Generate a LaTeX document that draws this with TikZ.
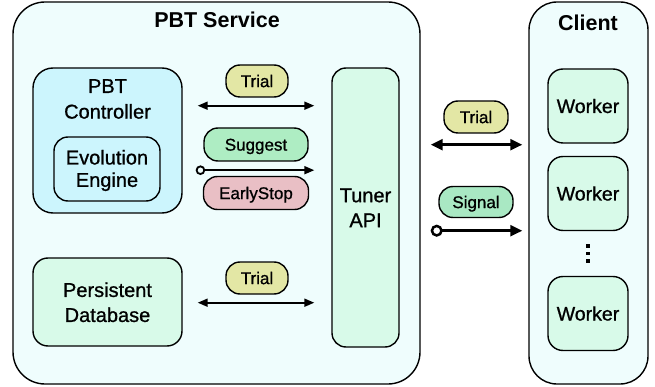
\documentclass[tikz,border=0pt]{standalone}
\usepackage{fontspec}
\setmainfont{Liberation Sans}
\newfontfamily\medfont{Liberation Sans}[FakeBold=0.9]
\usetikzlibrary{arrows.meta,calc}
\definecolor{svcbg}{HTML}{EFFDFD}
\definecolor{ctrlbg}{HTML}{CCF5FD}
\definecolor{greenbg}{HTML}{D8FAE9}
\definecolor{trialbg}{HTML}{E3E7A5}
\definecolor{suggbg}{HTML}{AEEDC3}
\definecolor{stopbg}{HTML}{E9BFC5}
\definecolor{sigbg}{HTML}{A9E8C3}
\begin{document}
\begin{tikzpicture}[x=1pt,y=-1pt,
  frame/.style={draw=black,line width=1.4pt,rounded corners=#1,inner sep=0pt},
  boxtxt/.style={font=\medfont\fontsize{20}{#1}\selectfont,align=center,inner sep=0pt},
  titletxt/.style={font=\bfseries\fontsize{21.5}{25}\selectfont,inner sep=0pt},
  lab/.style={draw=black,line width=1.4pt,rounded corners=14pt,inner sep=0pt,
    font=\medfont\fontsize{17}{20}\selectfont,text height=12.2pt,text depth=0pt},
  worker/.style={frame=15pt,fill=greenbg,minimum width=80pt,minimum height=74pt,
    font=\medfont\fontsize{19.5}{24}\selectfont,text height=14pt,text depth=0pt},
  biarrow/.style={line width=1.8pt,{Triangle[length=10pt,width=8pt]}-{Triangle[length=10pt,width=8pt]}},
  sigarrow/.style={line width=1.8pt,{Circle[open,length=9.5pt,width=9.5pt]}-{Triangle[length=10pt,width=8pt]}},
  bigbi/.style={line width=2.5pt,{Triangle[length=12pt,width=11pt]}-{Triangle[length=12pt,width=11pt]}},
  bigsig/.style={line width=2.5pt,{Circle[open,length=12pt,width=12pt]}-{Triangle[length=12pt,width=11pt]}}
]
\useasboundingbox (0,0) rectangle (655,387);

% containers
\node[frame=32pt,fill=svcbg,minimum width=407pt,minimum height=382pt] (svc) at (216.5,193) {};
\node[titletxt,anchor=base] (svcT) at (217,27.3) {PBT Service};
\node[frame=28pt,fill=svcbg,minimum width=119pt,minimum height=382pt] (client) at (588.5,193) {};
\node[titletxt,anchor=base] (clientT) at (588,31) {Client};

% PBT controller
\node[frame=20pt,fill=ctrlbg,minimum width=149pt,minimum height=145pt] (ctrl) at (107.5,140.5) {};
\node[boxtxt=25.6] (ctrlT) at (107.5,99) {PBT\\Controller};
\node[frame=14pt,fill=ctrlbg,minimum width=106pt,minimum height=64pt] (evo) at (107,169) {};
\node[boxtxt=22.4] (evoT) at (107,170.5) {Evolution\\Engine};

% persistent database
\node[frame=15pt,fill=greenbg,minimum width=149pt,minimum height=88pt] (db) at (107.5,302) {};
\node[boxtxt=25] (dbT) at (107.5,302.3) {Persistent\\Database};

% tuner api
\node[frame=14pt,fill=greenbg,minimum width=67pt,minimum height=279pt] (tuner) at (365.5,207.5) {};
\node[boxtxt=25] (tunerT) at (365.5,207.8) {Tuner\\API};

% workers
\node[worker] (w1) at (588,106) {Worker};
\node[worker] (w2) at (588,193.5) {Worker};
\node[worker] (w3) at (588,313.5) {Worker};
\foreach \yy in {246,253.5,261} \fill (586.2,\yy-1.8) rectangle (589.8,\yy+1.8);

% labels
\node[lab,fill=trialbg,minimum width=62pt,minimum height=32pt] (t1) at (257,81) {Trial};
\node[lab,fill=suggbg,minimum width=104pt,minimum height=33pt] (sg) at (256,144.5) {Suggest};
\node[lab,fill=stopbg,minimum width=105pt,minimum height=33pt] (es) at (256,193) {EarlyStop};
\node[lab,fill=trialbg,minimum width=62pt,minimum height=32pt] (t2) at (257,278) {Trial};
\node[lab,fill=trialbg,minimum width=64pt,minimum height=32pt] (t3) at (476,117) {Trial};
\node[lab,fill=sigbg,minimum width=74pt,minimum height=31pt] (sig) at (476,202) {Signal};

% connectors
\draw[biarrow,shorten <=15pt,shorten >=17pt] ($(ctrl.east |- t1.south)+(0,8)$) -- ($(tuner.west |- t1.south)+(0,8)$);
\draw[sigarrow,shorten <=13pt,shorten >=17pt] ($(ctrl.east |- sg.south)+(0,8.5)$) -- ($(tuner.west |- sg.south)+(0,8.5)$);
\draw[biarrow,shorten <=15pt,shorten >=17pt] ($(db.east |- t2.south)+(0,8)$) -- ($(tuner.west |- t2.south)+(0,8)$);
\draw[bigbi,shorten <=10pt,shorten >=6pt] ($(svc.east |- t3.south)+(0,11)$) -- ($(client.west |- t3.south)+(0,11)$);
\draw[bigsig,shorten <=10pt,shorten >=6pt] ($(svc.east |- sig.south)+(0,12.5)$) -- ($(client.west |- sig.south)+(0,12.5)$);
\end{tikzpicture}
\end{document}
